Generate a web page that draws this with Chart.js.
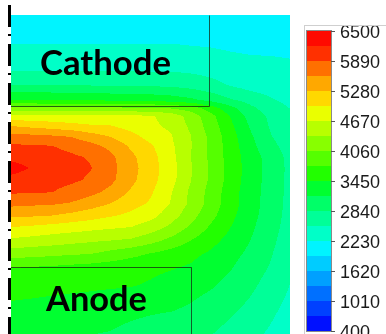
<!DOCTYPE html>
<html>
<head>
<meta charset="utf-8">
<script src="https://cdn.jsdelivr.net/npm/chart.js@4.4.1/dist/chart.umd.min.js"></script>
<style>
    html, body { margin: 0; padding: 0; background: #fff; overflow: hidden; }
    canvas { display: block; }
</style>
</head>
<body>
<canvas id="myChart" width="386" height="366"></canvas>
<script>
// grid nodes (mm, x from the axis, y from the bottom of the view)
const xNodes = [0, 1, 2, 3, 4, 5, 6, 7, 8, 9, 10, 11, 12, 13, 14];
const yNodes = [15.95, 14.7, 13.45, 12.45, 11.7, 11.3, 10.9, 10.4, 9.9, 9.4, 8.85, 8.3,
                7.7, 7.1, 6.5, 5.9, 5.3, 4.7, 4.0, 3.3, 2.45, 1.2, 0];

// temperature (K), one row per yNodes entry, top row first
const temperature = [
    [2030,2030,2030,2030,2030,2030,2030,2030,2030,2030,2030,2030,2030,2030,2030],
    [2200,2200,2200,2200,2200,2200,2200,2200,2200,2180,2170,2150,2140,2140,2140],
    [2410,2410,2410,2410,2410,2410,2410,2410,2410,2400,2370,2320,2290,2280,2260],
    [2840,2840,2840,2840,2820,2810,2810,2790,2780,2720,2630,2510,2410,2370,2340],
    [3450,3450,3450,3440,3420,3400,3390,3360,3300,3210,3050,2870,2720,2570,2440],
    [4150,4150,4140,4130,4120,4110,4100,4080,4030,3900,3600,3230,2900,2680,2520],
    [4770,4760,4750,4740,4730,4720,4720,4700,4550,4240,3850,3420,3020,2780,2600],
    [5280,5210,5150,5080,5010,4990,4850,4730,4610,4300,3910,3510,3100,2800,2630],
    [5680,5650,5610,5560,5400,5250,5070,4850,4690,4370,3970,3570,3180,2850,2660],
    [5940,5920,5900,5810,5680,5500,5230,5010,4730,4380,3980,3600,3230,2920,2700],
    [6120,6060,6000,5940,5860,5650,5350,5080,4770,4360,3990,3610,3290,3010,2740],
    [6320,6180,6080,5990,5900,5680,5390,5100,4800,4390,4010,3630,3300,3030,2750],
    [6100,6040,5990,5940,5850,5650,5360,5080,4780,4370,4000,3620,3290,3020,2750],
    [5930,5910,5900,5800,5670,5500,5240,5010,4690,4300,3950,3580,3270,3010,2740],
    [5660,5630,5610,5550,5410,5260,5080,4930,4650,4290,3930,3580,3270,3000,2740],
    [5310,5300,5270,5180,5090,4990,4900,4760,4500,4170,3840,3520,3240,2980,2720],
    [4950,4900,4840,4790,4740,4690,4650,4500,4280,3990,3700,3440,3190,2950,2700],
    [4620,4570,4520,4470,4420,4380,4330,4180,3980,3760,3550,3350,3140,2910,2670],
    [4190,4160,4130,4090,4060,3950,3840,3730,3620,3520,3400,3240,3070,2860,2630],
    [3760,3720,3690,3650,3610,3580,3540,3510,3470,3410,3290,3160,2990,2810,2580],
    [3590,3570,3550,3530,3510,3490,3470,3420,3340,3260,3180,3050,2900,2720,2520],
    [3370,3350,3320,3290,3270,3240,3210,3180,3160,3100,3000,2890,2760,2590,2440],
    [3190,3180,3170,3160,3150,3130,3070,3020,2960,2900,2850,2740,2610,2490,2360]
];

const tickLabels = [400, 1010, 1620, 2230, 2840, 3450, 4060, 4670, 5280, 5890, 6500];
const levels = [400, 705, 1010, 1315, 1620, 1925, 2230, 2535, 2840, 3145, 3450,
                3755, 4060, 4365, 4670, 4975, 5280, 5585, 5890, 6195, 6500];
const bandColors = ['#0010ff','#0040ff','#0070ff','#00a0ff','#00ccff','#00f4ff','#00ffc8',
                    '#00ff98','#00ff68','#00ff30','#22ff00','#55ff00','#88ff00','#b8ff00',
                    '#eaff00','#ffd800','#ffa800','#ff7000','#ff3000','#ff0a00'];

const electrodes = [
    { name: 'Cathode', x0: 0, x1: 9.9, y0: 11.4, y1: 15.95, tx: 4.725, ty: 12.95, width: 131 },
    { name: 'Anode', x0: 0, x1: 9.0, y0: -0.8, y1: 3.35, tx: 4.275, ty: 1.15, width: 101 }
];

function hexToRgb(h) {
    return [parseInt(h.substr(1, 2), 16), parseInt(h.substr(3, 2), 16), parseInt(h.substr(5, 2), 16)];
}
const bandRgb = bandColors.map(hexToRgb);

function valueAt(x, y) {
    let i = 0;
    while (i < xNodes.length - 2 && x > xNodes[i + 1]) i++;
    let j = 0;
    while (j < yNodes.length - 2 && y < yNodes[j + 1]) j++;
    let tx = (x - xNodes[i]) / (xNodes[i + 1] - xNodes[i]);
    let ty = (yNodes[j] - y) / (yNodes[j] - yNodes[j + 1]);
    tx = Math.min(1, Math.max(0, tx));
    ty = Math.min(1, Math.max(0, ty));
    const a = temperature[j][i], b = temperature[j][i + 1];
    const c = temperature[j + 1][i], d = temperature[j + 1][i + 1];
    return (a * (1 - tx) + b * tx) * (1 - ty) + (c * (1 - tx) + d * tx) * ty;
}

function bandOf(v) {
    let k = 0;
    while (k < levels.length - 2 && v >= levels[k + 1]) k++;
    return k;
}

const contourPlugin = {
    id: 'contour',
    beforeDatasetsDraw(chart) {
        const ctx = chart.ctx;
        const area = chart.chartArea;
        const xs = chart.scales.x, ys = chart.scales.y;
        const w = Math.round(area.right - area.left);
        const h = Math.round(area.bottom - area.top);
        const img = ctx.createImageData(w, h);
        for (let py = 0; py < h; py++) {
            const yv = ys.getValueForPixel(area.top + py + 0.5);
            for (let px = 0; px < w; px++) {
                const xv = xs.getValueForPixel(area.left + px + 0.5);
                const rgb = bandRgb[bandOf(valueAt(xv, yv))];
                const o = (py * w + px) * 4;
                img.data[o] = rgb[0];
                img.data[o + 1] = rgb[1];
                img.data[o + 2] = rgb[2];
                img.data[o + 3] = 255;
            }
        }
        ctx.putImageData(img, Math.round(area.left), Math.round(area.top));
    },
    afterDraw(chart) {
        const ctx = chart.ctx;
        const xs = chart.scales.x, ys = chart.scales.y, cb = chart.scales.cb;

        // electrode outlines and names
        ctx.save();
        ctx.strokeStyle = 'rgba(20,40,20,0.75)';
        ctx.lineWidth = 1;
        electrodes.forEach(e => {
            const l = Math.round(xs.getPixelForValue(e.x0));
            const r = Math.round(xs.getPixelForValue(e.x1)) + 0.5;
            const t = Math.round(ys.getPixelForValue(e.y1)) + 0.5;
            const b = Math.round(ys.getPixelForValue(e.y0)) + 0.5;
            ctx.beginPath();
            if (e.name === 'Cathode') {
                ctx.moveTo(l, b); ctx.lineTo(r, b); ctx.lineTo(r, t);
            } else {
                ctx.moveTo(l, t); ctx.lineTo(r, t); ctx.lineTo(r, b);
            }
            ctx.stroke();

            ctx.font = 'bold 36px Lato';
            const size = 36 * e.width / ctx.measureText(e.name).width;
            ctx.font = 'bold ' + size.toFixed(1) + 'px Lato';
            ctx.fillStyle = '#000';
            ctx.textAlign = 'center';
            ctx.textBaseline = 'alphabetic';
            ctx.fillText(e.name, xs.getPixelForValue(e.tx), ys.getPixelForValue(e.ty));
        });
        ctx.restore();

        // dash-dot symmetry axis on the left
        ctx.save();
        ctx.strokeStyle = '#000';
        ctx.lineWidth = 3;
        ctx.setLineDash([22, 7, 2, 8]);
        ctx.beginPath();
        ctx.moveTo(9.5, 5);
        ctx.lineTo(9.5, chart.height);
        ctx.stroke();
        ctx.restore();

        // colour bar
        ctx.save();
        ctx.strokeStyle = '#cfcfcf';
        ctx.lineWidth = 1;
        ctx.strokeRect(304.5, 25.5, 200, 400);
        const barL = 307, barR = 331;
        for (let k = 0; k < bandColors.length; k++) {
            const y0 = cb.getPixelForValue(levels[k + 1]);
            const y1 = cb.getPixelForValue(levels[k]);
            ctx.fillStyle = bandColors[k];
            ctx.fillRect(barL, y0, barR - barL, y1 - y0);
        }
        ctx.strokeStyle = '#8a8a8a';
        ctx.strokeRect(barL - 0.5, cb.getPixelForValue(6500) - 0.5, barR - barL + 1,
            cb.getPixelForValue(400) - cb.getPixelForValue(6500) + 1);
        ctx.strokeStyle = '#555';
        tickLabels.forEach(v => {
            const y = Math.round(cb.getPixelForValue(v)) + 0.5;
            ctx.beginPath();
            ctx.moveTo(barR, y);
            ctx.lineTo(barR + 4, y);
            ctx.stroke();
        });
        ctx.restore();
    }
};

const ctx = document.getElementById('myChart');

new Chart(ctx, {
    type: 'scatter',
    data: {
        datasets: [{
            data: [],
            pointRadius: 0
        }]
    },
    options: {
        responsive: false,
        animation: false,
        layout: { padding: { left: 11, top: 15, right: 0, bottom: 16 } },
        plugins: { legend: { display: false }, tooltip: { enabled: false } },
        scales: {
            x: { type: 'linear', min: 0, max: 13.95, display: false },
            y: { type: 'linear', min: -0.8, max: 15.95, display: false },
            cb: {
                axis: 'y',
                type: 'linear',
                position: 'right',
                min: 13.7,
                max: 6825.3,
                grid: { display: false, drawTicks: true, tickLength: 50 },
                border: { display: false },
                afterBuildTicks: function (scale) {
                    scale.ticks = tickLabels.map(v => ({ value: v }));
                },
                afterFit: function (scale) {
                    scale.width = 96;
                },
                ticks: {
                    autoSkip: false,
                    padding: 0,
                    labelOffset: 2,
                    color: '#1a1a1a',
                    font: { family: 'Liberation Sans', size: 18 },
                    callback: function (value) { return String(value); }
                }
            }
        }
    },
    plugins: [contourPlugin]
});
</script>
</body>
</html>
